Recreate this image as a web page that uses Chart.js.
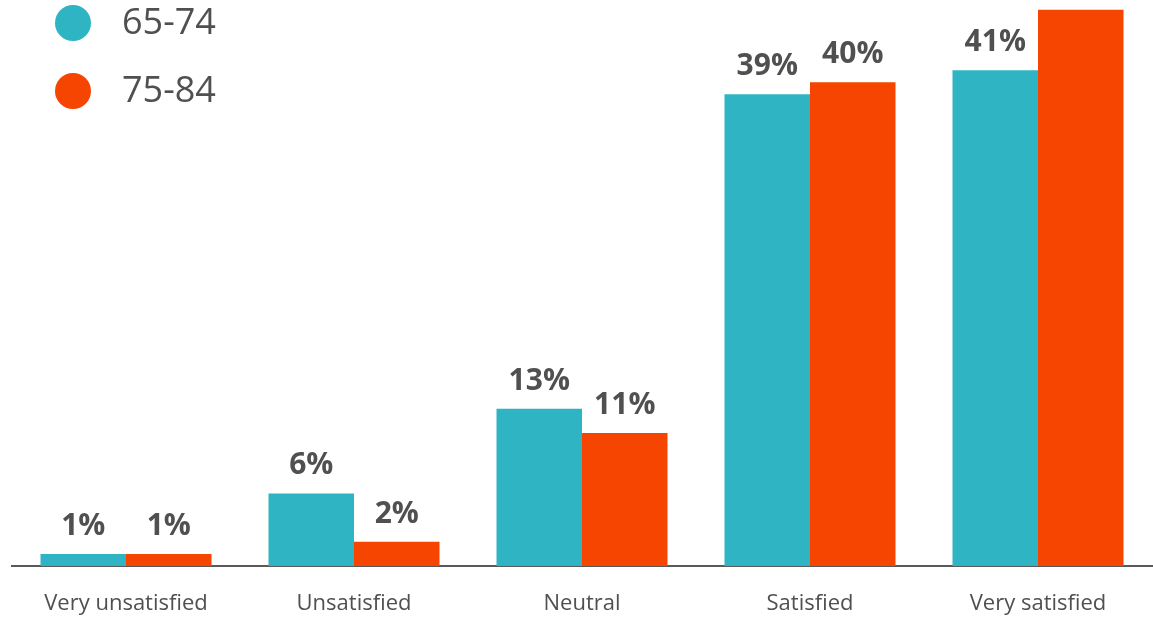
<!DOCTYPE html>
<html>
<head>
<meta charset="utf-8">
<script src="https://cdn.jsdelivr.net/npm/chart.js@4/dist/chart.umd.min.js"></script>
<style>
  html, body { margin: 0; padding: 0; background: #fff; }
  #wrap { width: 1153px; height: 618px; position: relative; }
</style>
</head>
<body>
<div id="wrap"><canvas id="satChart"></canvas></div>
<script>
// Satisfaction by age group (%)
const categories = ['Very unsatisfied', 'Unsatisfied', 'Neutral', 'Satisfied', 'Very satisfied'];
const seriesNames = ['65-74', '75-84'];
const values6574 = [1, 6, 13, 39, 41];
const values7584 = [1, 2, 11, 40, 46];

const colors = {
    teal: '#2FB4C4',
    orange: '#F54500',
    text: '#505050',
    axis: '#595959'
};
const fontFamily = "'Open Sans', 'Noto Sans', sans-serif";

// value labels above bars
const barLabels = {
    id: 'barLabels',
    afterDatasetsDraw(chart) {
        const ctx = chart.ctx;
        ctx.save();
        ctx.font = 'bold 30px ' + fontFamily;
        ctx.fillStyle = colors.text;
        ctx.textAlign = 'center';
        ctx.textBaseline = 'alphabetic';
        chart.data.datasets.forEach((ds, i) => {
            chart.getDatasetMeta(i).data.forEach((bar, j) => {
                ctx.fillText(ds.data[j] + '%', bar.x, bar.y - 19);
            });
        });
        ctx.restore();
    }
};

// legend drawn in the top-left corner
const cornerLegend = {
    id: 'cornerLegend',
    afterDraw(chart) {
        const ctx = chart.ctx;
        ctx.save();
        ctx.font = '36px ' + fontFamily;
        ctx.textBaseline = 'middle';
        chart.data.datasets.forEach((ds, i) => {
            const y = 23 + i * 68;
            ctx.fillStyle = ds.backgroundColor;
            ctx.beginPath();
            ctx.arc(73, y, 18, 0, Math.PI * 2);
            ctx.fill();
            ctx.fillStyle = colors.text;
            ctx.fillText(ds.label, 122, y + 1);
        });
        ctx.restore();
    }
};

new Chart(document.getElementById('satChart'), {
    type: 'bar',
    data: {
        labels: categories,
        datasets: [
            { label: seriesNames[0], data: values6574, backgroundColor: colors.teal },
            { label: seriesNames[1], data: values7584, backgroundColor: colors.orange }
        ]
    },
    options: {
        responsive: true,
        maintainAspectRatio: false,
        animation: false,
        layout: { padding: { left: 12, right: 1, top: 0, bottom: 0 } },
        datasets: {
            bar: { categoryPercentage: 0.75, barPercentage: 1.0 }
        },
        plugins: {
            legend: { display: false },
            tooltip: { enabled: false }
        },
        scales: {
            x: {
                grid: { display: false, drawTicks: false },
                border: { display: true, color: colors.axis, width: 2 },
                ticks: {
                    color: colors.text,
                    padding: 25,
                    font: { family: fontFamily, size: 22 }
                },
                afterFit(scale) { scale.height = 52; }
            },
            y: {
                display: false,
                min: 0,
                max: 46.8
            }
        }
    },
    plugins: [barLabels, cornerLegend]
});
</script>
</body>
</html>
